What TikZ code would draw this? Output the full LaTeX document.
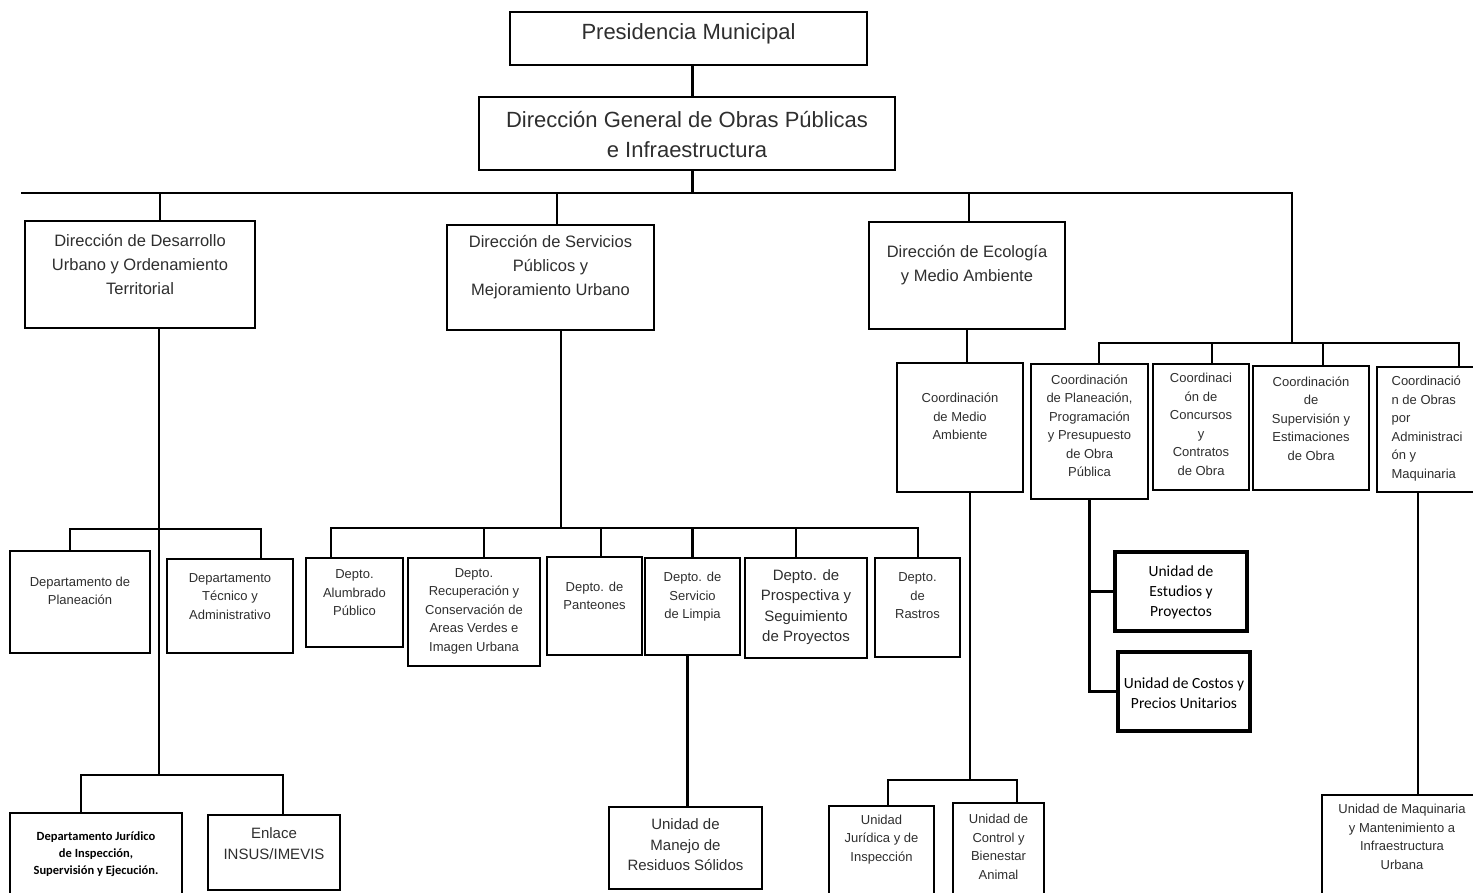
\documentclass[tikz,border=0pt]{standalone}
\usepackage{fontspec}
\setmainfont{Liberation Sans}
\newfontfamily\calfont{Carlito}
\definecolor{txtgray}{HTML}{2E2E2E}
\tikzset{
  org/.style 2 args={draw=black, line width=2.4pt, minimum width=#1, minimum height=#2, inner sep=0pt},
  heavy/.style={line width=3.6pt},
  link/.style={line width=2.4pt, line cap=rect},
  txt/.style={align=center, text=txtgray, inner sep=0pt},
  fbig/.style={font=\fontsize{22}{30}\selectfont},
  fmid/.style={font=\fontsize{16.5}{24}\selectfont},
  fmed/.style={font=\fontsize{15}{20.5}\selectfont},
  fsmall/.style={font=\fontsize{13}{18.5}\selectfont},
  fcal/.style={font=\calfont\fontsize{15.5}{20}\selectfont, text=black},
  fcalb/.style={font=\calfont\bfseries\fontsize{12.5}{17}\selectfont, text=black},
}
\begin{document}
\begin{tikzpicture}[x=1pt,y=-1pt]
\useasboundingbox (0,0) rectangle (1473,892);
\clip (0,0) rectangle (1473,892);

\node[org={357}{53}, label={[txt,fbig,yshift=4.5]center:Presidencia Municipal}] (pm) at (688.5,38.5) {};
\node[org={416}{73}, label={[txt,fbig,yshift=-1.5]center:{Dirección General de Obras Públicas\\e Infraestructura}}] (dgop) at (687,133.5) {};

\node[org={230}{107}, label={[txt,fmid,yshift=10]center:{Dirección de Desarrollo\\Urbano y Ordenamiento\\Territorial}}] (ddu) at (140,274.5) {};
\node[org={207}{105}, label={[txt,fmid,yshift=10.5]center:{Dirección de Servicios\\Públicos y\\Mejoramiento Urbano}}] (dsp) at (550.5,277.5) {};
\node[org={196}{107}, label={[txt,fmid,yshift=10.5]center:{Dirección de Ecología\\y Medio Ambiente}}] (deco) at (967,275.5) {};

\node[org={126}{129}, label={[txt,fsmall,yshift=11]center:{Coordinación\\de Medio\\Ambiente}}] (cma) at (960,427.5) {};
\node[org={117}{135}, label={[txt,fsmall,yshift=5.5]center:{Coordinación\\de Planeación,\\Programación\\y Presupuesto\\de Obra\\Pública}}] (cpp) at (1089.5,431.5) {};
\node[org={96}{126}, label={[txt,fsmall,yshift=2.5]center:{Coordinaci\\ón de\\Concursos\\y\\Contratos\\de Obra}}] (ccc) at (1201,427) {};
\node[org={116}{124}, label={[txt,fsmall,yshift=9.5]center:{Coordinación\\de\\Supervisión y\\Estimaciones\\de Obra}}] (cse) at (1311,428) {};
\node[org={100}{125}, label={[txt,fsmall,align=left,yshift=1]center:{Coordinació\\n de Obras\\por\\Administraci\\ón y\\Maquinaria}}] (coa) at (1427,429.5) {};

\node[org={140}{102}, label={[txt,fsmall,yshift=11]center:{Departamento de\\Planeación}}] (dpl) at (80,602) {};
\node[org={126}{94}, label={[txt,fsmall,yshift=9.5]center:{Departamento\\Técnico y\\Administrativo}}] (dta) at (230,606) {};
\node[org={172}{87}, label={[txt,fcalb,yshift=2.5]center:{Departamento Jurídico\\de Inspección,\\Supervisión y Ejecución.}}] (dji) at (96,856.5) {};
\node[org={132}{75}, label={[txt,fmed,yshift=9]center:{Enlace\\INSUS/IMEVIS}}] (ein) at (274,852.5) {};

\node[org={97}{89}, label={[txt,fsmall,yshift=9.5]center:{Depto.\\Alumbrado\\Público}}] (dap) at (354.5,602.5) {};
\node[org={132}{108}, label={[txt,fsmall,yshift=1]center:{Depto.\\Recuperación y\\Conservación de\\Areas Verdes e\\Imagen Urbana}}] (drc) at (474,612) {};
\node[org={95}{98}, label={[txt,fsmall,yshift=10]center:{Depto. de\\Panteones}}] (dpa) at (594.5,606) {};
\node[org={95}{97}, label={[txt,fsmall,yshift=9.5]center:{Depto. de\\Servicio\\de Limpia}}] (dli) at (692.5,606.5) {};
\node[org={122}{100}, label={[txt,fmed,yshift=1]center:{Depto. de\\Prospectiva y\\Seguimiento\\de Proyectos}}] (dps) at (806,608) {};
\node[org={85}{99}, label={[txt,fsmall,yshift=11.5]center:{Depto.\\de\\Rastros}}] (dra) at (917.5,607.5) {};
\node[org={153}{82}, label={[txt,fmed,yshift=3]center:{Unidad de\\Manejo de\\Residuos Sólidos}}] (urs) at (685.5,848) {};

\node[org={105}{94}, label={[txt,fsmall,yshift=13.5]center:{Unidad\\Jurídica y de\\Inspección}}] (uji) at (881.5,853) {};
\node[org={91}{97}, label={[txt,fsmall,yshift=4.5]center:{Unidad de\\Control y\\Bienestar\\Animal}}] (ucb) at (998.5,851.5) {};

\node[org={132}{79}, heavy, label={[txt,fcal,yshift=-1]center:{Unidad de\\Estudios y\\Proyectos}}] (uep) at (1181,591.5) {};
\node[org={132}{79}, heavy, label={[txt,fcal,yshift=-2]center:{Unidad de Costos y\\Precios Unitarios}}] (ucp) at (1184,691.5) {};
\node[org={160}{105}, label={[txt,fsmall,yshift=10.5]center:{Unidad de Maquinaria\\y Mantenimiento a\\Infraestructura\\Urbana}}] (umm) at (1402,847.5) {};

\coordinate (barL) at (22,193);
\coordinate (barR) at (1292,193);
\draw[link] ([xshift=4]pm.south) -- ([xshift=4]pm.south |- dgop.north);
\draw[link] ([xshift=5.5]dgop.south) -- ([xshift=5.5]dgop.south |- barL);
\draw[link] (barL) -- (barR);
\draw[link] ([xshift=20]ddu.north) -- ([xshift=20]ddu.north |- barL);
\draw[link] ([xshift=6.5]dsp.north) -- ([xshift=6.5]dsp.north |- barL);
\draw[link] ([xshift=2]deco.north) -- ([xshift=2]deco.north |- barL);

\coordinate (cbarL) at (1099,343);
\coordinate (cbarR) at (1459,343);
\draw[link] (barR) -- (barR |- cbarL);
\draw[link] (cbarL) -- (cbarR);
\draw[link] (cbarL) -- (cbarL |- cpp.north);
\draw[link] ([xshift=11]ccc.north) -- ([xshift=11]ccc.north |- cbarL);
\draw[link] ([xshift=12]cse.north) -- ([xshift=12]cse.north |- cbarL);
\draw[link] (cbarR) -- (cbarR |- coa.north);
\draw[link] ([xshift=7]cma.north) -- ([xshift=7]cma.north |- deco.south);

\coordinate (ubarL) at (888,780);
\coordinate (ubarR) at (1017,780);
\draw[link] ([xshift=10]cma.south) -- ([xshift=10]cma.south |- ubarL);
\draw[link] (ubarL) -- (ubarR);
\draw[link] (ubarL) -- (ubarL |- uji.north);
\draw[link] (ubarR) -- (ubarR |- ucb.north);

\draw[link, heavy] (cpp.south) |- (ucp.west);
\draw[link, heavy] (cpp.south |- uep.west) -- (uep.west);
\draw[link] ([xshift=16]umm.north) -- ([xshift=16]umm.north |- coa.south);

\coordinate (dbarL) at (70,529);
\coordinate (dbarR) at (261,529);
\coordinate (jbarL) at (81,775);
\coordinate (jbarR) at (283,775);
\draw[link] ([xshift=19]ddu.south) -- ([xshift=19]ddu.south |- jbarL);
\draw[link] (dbarL) -- (dbarR);
\draw[link] (dbarL) -- (dbarL |- dpl.north);
\draw[link] (dbarR) -- (dbarR |- dta.north);
\draw[link] (jbarL) -- (jbarR);
\draw[link] (jbarL) -- (jbarL |- dji.north);
\draw[link] (jbarR) -- (jbarR |- ein.north);

\coordinate (sbarL) at (331,528);
\coordinate (sbarR) at (918,528);
\draw[link] ([xshift=10.5]dsp.south) -- ([xshift=10.5]dsp.south |- sbarL);
\draw[link] (sbarL) -- (sbarR);
\draw[link] (sbarL) -- (sbarL |- dap.north);
\draw[link] ([xshift=10]drc.north) -- ([xshift=10]drc.north |- sbarL);
\draw[link] ([xshift=6.5]dpa.north) -- ([xshift=6.5]dpa.north |- sbarL);
\draw[link] (dli.north) -- (dli.north |- sbarL);
\draw[link] ([xshift=-10]dps.north) -- ([xshift=-10]dps.north |- sbarL);
\draw[link] (sbarR) -- (sbarR |- dra.north);
\draw[link] ([xshift=-5]dli.south) -- ([xshift=-5]dli.south |- urs.north);
\end{tikzpicture}
\end{document}
